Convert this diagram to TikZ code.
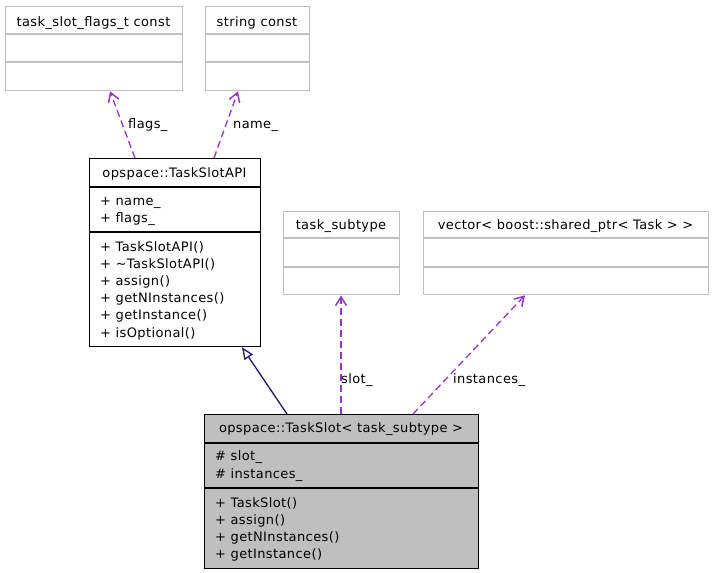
\documentclass[tikz,border=0pt]{standalone}
\usepackage{fontspec}
\setmainfont{DejaVu Sans}[LetterSpace=3]
\usepackage{tikz}
\usetikzlibrary{positioning, arrows.meta}
\definecolor{usecol}{HTML}{9A32CD}
\definecolor{inhcol}{HTML}{191970}
\definecolor{boxgray}{HTML}{BFBFBF}

\begin{document}
\begin{tikzpicture}[
    x=1pt, y=-1pt,
    cls/.style={draw=#1, line width=1.3pt, inner sep=0pt, anchor=north west},
    txt/.style={font=\fontsize{13}{15}\selectfont, inner sep=0pt, anchor=base west},
    ttl/.style={font=\fontsize{13}{15}\selectfont, inner sep=0pt, anchor=base},
    uses/.style={draw=usecol, dash pattern=on 7pt off 4pt, line width=1.3pt, -{Straight Barb[length=9pt, width=11pt, line width=1.5pt]}},
    inherit/.style={draw=inhcol, line width=1.3pt, -{Triangle[open, length=12pt, width=10pt, fill=white]}},
    elabel/.style={font=\fontsize{13}{15}\selectfont, inner sep=0pt, anchor=base west}
]
    \useasboundingbox (0,0) rectangle (713,573);

    % Used classes (top row)
    \node[cls=boxgray, minimum width=177pt, minimum height=84pt] (flagsT) at (5,6) {};
    \draw[boxgray, line width=1.3pt] (5,34) -- (182,34) (5,62) -- (182,62);
    \node[ttl] at (93.5,26) {task\_slot\_flags\_t const};

    \node[cls=boxgray, minimum width=104pt, minimum height=84pt] (strC) at (205,6) {};
    \draw[boxgray, line width=1.3pt] (205,34) -- (309,34) (205,62) -- (309,62);
    \node[ttl] at (257,26) {string const};

    % Base class
    \node[cls=black, minimum width=171pt, minimum height=188pt] (api) at (89,158) {};
    \draw[line width=1.3pt] (89,187) -- (260,187) (89,232) -- (260,232);
    \node[ttl] at (174.5,177) {opspace::TaskSlotAPI};
    \node[txt] at (100,205) {+ name\_};
    \node[txt] at (100,222) {+ flags\_};
    \node[txt] at (100,251) {+ TaskSlotAPI()};
    \node[txt] at (100,268) {+ \textasciitilde TaskSlotAPI()};
    \node[txt] at (100,285) {+ assign()};
    \node[txt] at (100,302) {+ getNInstances()};
    \node[txt] at (100,319) {+ getInstance()};
    \node[txt] at (100,337) {+ isOptional()};

    % Member types
    \node[cls=boxgray, minimum width=116pt, minimum height=83pt] (subT) at (283,211) {};
    \draw[boxgray, line width=1.3pt] (283,238) -- (399,238) (283,267) -- (399,267);
    \node[ttl] at (341,229) {task\_subtype};

    \node[cls=boxgray, minimum width=285pt, minimum height=83pt] (vecT) at (423,211) {};
    \draw[boxgray, line width=1.3pt] (423,238) -- (708,238) (423,267) -- (708,267);
    \node[ttl] at (565.5,229) {vector< boost::shared\_ptr< Task > >};

    % Derived class
    \node[cls=black, fill=boxgray, minimum width=274pt, minimum height=154pt] (slot) at (204,414) {};
    \draw[line width=1.3pt] (204,443) -- (478,443) (204,488) -- (478,488);
    \node[ttl] at (341,432) {opspace::TaskSlot< task\_subtype >};
    \node[txt] at (215,460) {\# slot\_};
    \node[txt] at (215,478) {\# instances\_};
    \node[txt] at (215,507) {+ TaskSlot()};
    \node[txt] at (215,524) {+ assign()};
    \node[txt] at (215,541) {+ getNInstances()};
    \node[txt] at (215,558) {+ getInstance()};

    % Connectors
    \draw[uses] (api.north -| 135,0) -- (flagsT.south -| 110,0);
    \draw[uses] (api.north -| 214,0) -- (strC.south -| 238,0);
    \draw[inherit] (slot.north -| 287,0) -- (api.south -| 242,0);
    \draw[uses] (slot.north -| 341,0) -- (subT.south -| 341,0);
    \draw[uses] (slot.north -| 413,0) -- (vecT.south -| 525,0);

    % Connector labels
    \node[elabel] (lflags) at (128,128) {flags\_};
    \node[elabel] (lname) at (233,128) {name\_};
    \node[elabel] (lslot) at (341,383) {slot\_};
    \node[elabel] (linst) at (453,383) {instances\_};
\end{tikzpicture}
\end{document}
